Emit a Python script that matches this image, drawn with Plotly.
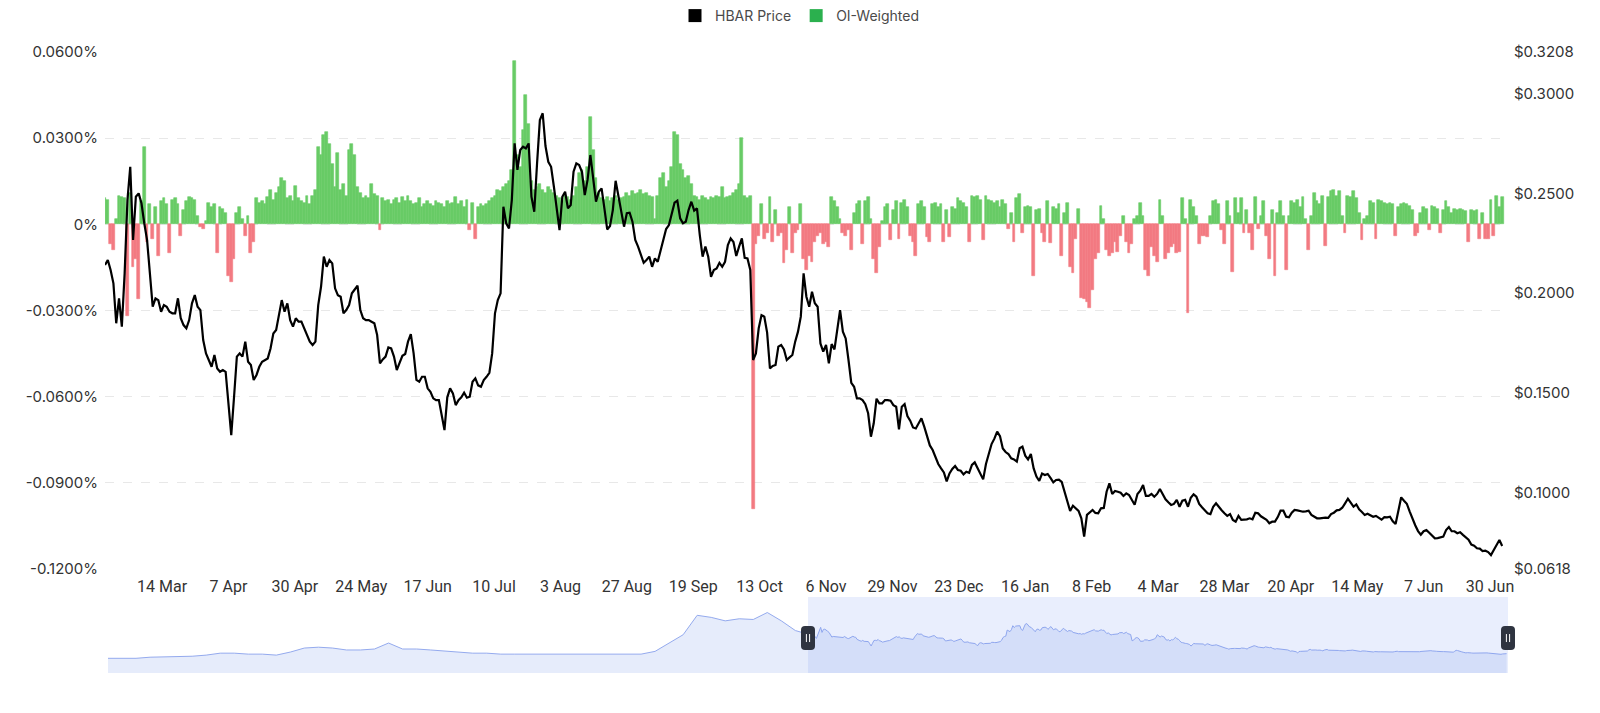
import numpy as np
import pandas as pd
import plotly.graph_objects as go

# ---------------- data ----------------
start_date = "2025-02-22"

# HBAR price, units of $0.0001, one value per day
price_e4 = [
2141,2166,2116,2049,1849,1974,1832,2099,2466,2633,
2266,2483,2500,2450,2350,2266,2099,1932,1974,1965,
1907,1940,1932,1907,1899,1899,1974,1874,1840,1824,
1865,1949,1990,1932,1915,1765,1698,1665,1631,1690,
1623,1606,1615,1606,1448,1289,1481,1682,1698,1682,
1757,1656,1640,1565,1590,1631,1656,1665,1673,1723,
1798,1815,1899,1965,1907,1949,1865,1832,1874,1857,
1857,1824,1782,1757,1740,1757,1940,2032,2183,2132,
2166,2149,2024,1990,1982,1899,1915,1940,1999,2016,
2037,1915,1874,1865,1865,1857,1849,1790,1648,1668,
1682,1728,1723,1682,1615,1651,1686,1695,1757,1795,
1698,1565,1556,1581,1581,1523,1506,1473,1464,1464,
1381,1314,1478,1523,1498,1439,1464,1478,1501,1476,
1481,1556,1573,1538,1531,1565,1581,1601,1698,1899,
1965,1999,2433,2350,2324,2466,2750,2617,2717,2734,
2725,2750,2483,2408,2650,2867,2901,2737,2658,2633,
2533,2416,2316,2483,2508,2425,2441,2608,2650,2642,
2608,2491,2567,2692,2583,2458,2508,2525,2425,2319,
2336,2416,2563,2483,2416,2333,2400,2403,2358,2266,
2233,2196,2152,2166,2183,2132,2174,2157,2216,2263,
2321,2341,2395,2453,2463,2375,2350,2358,2416,2458,
2413,2425,2291,2183,2233,2183,2082,2116,2124,2152,
2132,2157,2241,2274,2256,2186,2233,2274,2177,2174,
2116,1665,1698,1824,1890,1882,1802,1623,1635,1640,
1732,1740,1718,1665,1678,1690,1757,1807,1882,2099,
1982,1932,2007,1949,1932,1748,1707,1740,1648,1745,
1718,1824,1915,1807,1773,1665,1551,1531,1473,1473,
1464,1444,1398,1281,1348,1471,1448,1448,1464,1464,
1461,1439,1431,1317,1431,1444,1384,1361,1327,1322,
1351,1373,1331,1281,1237,1214,1177,1144,1122,1102,
1057,1097,1119,1134,1114,1110,1092,1105,1100,1139,
1152,1124,1100,1067,1144,1197,1244,1271,1306,1284,
1222,1204,1194,1172,1167,1156,1223,1231,1186,1167,
1194,1122,1081,1059,1096,1089,1094,1074,1052,1064,
1066,1054,1002,959,909,935,924,909,872,780,
889,900,914,899,897,922,924,1005,1047,994,
1009,1005,1000,984,997,989,967,940,994,1010,
1039,984,984,994,980,994,1019,989,967,952,
939,944,964,930,960,964,930,975,992,980,
944,927,912,897,893,930,947,927,912,897,
884,893,864,855,884,864,865,867,872,867,
900,897,882,875,864,847,855,855,878,910,
910,880,877,900,914,912,909,905,907,910,
889,880,872,872,874,875,874,893,900,912,
914,925,947,970,950,930,942,917,904,889,
895,887,880,884,875,865,878,877,880,857,
843,905,977,960,945,907,867,837,808,790,
807,813,800,785,772,773,777,780,813,828,
807,807,797,802,789,777,765,740,735,722,
720,708,710,703,688,713,738,763,733,
]

# OI-weighted funding rate, units of 0.0001 %, one value per day
funding_e4 = [
90,85,-70,-90,20,100,95,90,-320,110,
-150,-120,-260,80,270,-60,70,-50,60,-110,
80,90,70,-100,85,90,70,-40,50,80,
95,90,85,30,-10,-15,10,75,60,70,
-100,60,55,40,-180,-200,-120,40,60,20,
-40,30,-100,-60,90,75,80,70,95,120,
85,110,130,160,150,90,100,80,135,90,
80,75,100,70,100,120,270,240,310,320,
280,210,130,250,120,140,100,260,280,240,
130,110,90,100,90,140,105,100,-20,90,
80,85,70,85,90,75,95,80,100,80,
70,75,90,60,70,80,70,65,80,75,
70,60,80,70,75,95,70,80,60,85,
-20,75,-50,60,70,65,70,80,90,100,
120,115,130,140,150,190,570,240,200,330,
450,350,150,120,130,140,120,110,130,120,
110,100,90,80,100,95,85,100,130,180,
190,150,200,375,260,160,110,90,85,95,
80,90,100,85,90,95,110,100,115,105,
110,120,105,110,100,95,20,100,160,180,
130,150,200,320,310,210,190,160,170,140,
100,95,85,100,90,85,95,90,100,95,
130,90,95,100,110,120,140,300,100,90,
100,-990,-70,-40,70,-50,-30,95,-60,50,
-40,-30,-135,-90,60,-100,-30,-20,70,-120,
-160,-110,-130,-60,-40,-30,-70,-60,-80,95,
80,60,20,-30,-40,-20,-90,40,70,80,
-70,80,95,20,-120,-170,-80,10,60,70,
-55,50,80,-50,75,85,60,-40,-60,-110,
70,80,60,-45,-60,70,75,60,70,-60,
50,-45,60,55,90,80,75,60,-60,100,
95,100,85,-55,100,85,80,75,80,60,
85,70,-15,40,-60,90,105,-30,60,65,
60,-180,50,55,-30,-60,80,-65,60,55,
70,-110,40,75,-150,-170,-50,55,-255,-260,
-270,-290,-230,-120,-100,65,20,-90,-110,-100,
-60,-95,-40,30,-60,-100,-70,20,30,75,
30,-160,-180,-80,-110,-130,85,30,-120,-100,
-80,-70,-100,-95,90,20,-310,85,60,30,
-70,-40,-40,-45,30,80,85,70,-20,-70,
80,30,-165,90,40,90,-30,50,-30,-90,
95,-15,30,80,-40,-120,50,-180,40,80,
30,-160,30,80,75,85,60,95,20,-90,
30,110,80,70,100,-75,95,115,120,100,
115,30,-30,100,95,115,90,40,-55,20,
30,80,75,-50,85,80,75,70,75,70,
-40,60,70,75,70,65,50,-40,-30,40,
60,55,-20,65,60,55,-30,50,80,60,
40,55,50,55,50,45,-60,50,45,50,
-50,40,-50,-50,85,-40,100,60,95,
]

# earlier price history shown only in the zoom slider (every 10 days)
slider_start = "2023-10-12"
slider_pre_price = [
0.040,0.040,0.040,0.048,0.050,0.055,0.055,0.063,0.077,0.077,
0.070,0.070,0.063,0.085,0.114,0.120,0.114,0.100,0.100,0.107,
0.150,0.107,0.107,0.100,0.092,0.085,0.077,0.077,0.070,0.070,
0.070,0.070,0.070,0.070,0.070,0.070,0.070,0.070,0.070,0.090,
0.150,0.210,0.350,0.335,0.310,0.325,0.320,0.370,0.310,0.240,
]

tick_times = ["2025-03-14 08:00","2025-04-07 00:00","2025-04-30 16:00","2025-05-24 08:00",
              "2025-06-17 00:00","2025-07-10 16:00","2025-08-03 08:00","2025-08-27 00:00",
              "2025-09-19 16:00","2025-10-13 08:00","2025-11-06 00:00","2025-11-29 16:00",
              "2025-12-23 08:00","2026-01-16 00:00","2026-02-08 16:00","2026-03-04 08:00",
              "2026-03-28 00:00","2026-04-20 16:00","2026-05-14 08:00","2026-06-07 00:00",
              "2026-06-30 16:00"]
tick_labels = ["14 Mar","7 Apr","30 Apr","24 May","17 Jun","10 Jul","3 Aug","27 Aug",
               "19 Sep","13 Oct","6 Nov","29 Nov","23 Dec","16 Jan","8 Feb","4 Mar",
               "28 Mar","20 Apr","14 May","7 Jun","30 Jun"]

left_ticks = [-0.12, -0.09, -0.06, -0.03, 0, 0.03, 0.06]
left_labels = ["-0.1200%","-0.0900%","-0.0600%","-0.0300%","0%","0.0300%","0.0600%"]
right_ticks = [0.0618, 0.10, 0.15, 0.20, 0.25, 0.30, 0.3208]
right_labels = ["$0.0618","$0.1000","$0.1500","$0.2000","$0.2500","$0.3000","$0.3208"]

# ---------------- build ----------------
dates = pd.date_range(start_date, periods=len(price_e4), freq="D")
price = np.array(price_e4) / 1e4
funding = np.array(funding_e4) / 1e4

GREEN = "#68cb66"
RED = "#f37a82"
bar_colors = [GREEN if v >= 0 else RED for v in funding]

pre_dates = pd.date_range(slider_start, periods=len(slider_pre_price), freq="10D")
mini_x = list(pre_dates) + list(dates)
mini_y = list(slider_pre_price) + list(price)

x_start = pd.Timestamp(start_date)
x_end = dates[-1] + pd.Timedelta(days=1)
s_start = pd.Timestamp(slider_start)
mini_lo, mini_hi = -0.066, 0.482

fig = go.Figure()
fig.add_trace(go.Bar(x=dates, y=funding, width=86400000,
                     marker=dict(color=bar_colors, line=dict(width=0.6, color=bar_colors)),
                     xaxis="x", yaxis="y", showlegend=False, hoverinfo="skip"))
fig.add_trace(go.Scatter(x=dates, y=price, mode="lines",
                         line=dict(color="#000000", width=2.2),
                         xaxis="x", yaxis="y2", showlegend=False))
fig.add_trace(go.Scatter(x=[None], y=[None], mode="markers", name="HBAR Price",
                         marker=dict(symbol="square", size=13, color="#000000")))
fig.add_trace(go.Scatter(x=[None], y=[None], mode="markers", name="OI-Weighted",
                         marker=dict(symbol="square", size=13, color="#2bb04e")))
# slider shadow: baseline + filled line
fig.add_trace(go.Scatter(x=[mini_x[0], mini_x[-1]], y=[mini_lo, mini_lo], mode="lines",
                         line=dict(width=0), xaxis="x2", yaxis="y3",
                         showlegend=False, hoverinfo="skip"))
fig.add_trace(go.Scatter(x=mini_x, y=mini_y, mode="lines",
                         line=dict(color="#94aaee", width=1),
                         fill="tonexty", fillcolor="#e6ecfb",
                         xaxis="x2", yaxis="y3", showlegend=False, hoverinfo="skip"))

W, H = 1600, 713
L, R, T, B = 105, 92, 52, 40
plot_w = W - L - R
plot_h = H - T - B
main_bottom_px = 569
slider_top_px = 597
main_dom = [(H - B - main_bottom_px) / plot_h, 1]
slider_dom = [0, (H - B - slider_top_px) / plot_h]
x2_dom = [3 / plot_w, 1]

tick_font = dict(family="Inter, Roboto, sans-serif", size=15, color="#333333")

fig.update_layout(
    width=W, height=H,
    margin=dict(l=L, r=R, t=T, b=B, autoexpand=False),
    paper_bgcolor="white", plot_bgcolor="white",
    barmode="overlay", bargap=0,
    showlegend=True,
    legend=dict(orientation="h", x=(800 - L) / plot_w, xanchor="center",
                y=1 + 36 / plot_h, yanchor="middle", traceorder="normal",
                font=dict(family="Inter, Roboto, sans-serif", size=14, color="#4a4a4a"),
                itemclick=False, itemdoubleclick=False),
    xaxis=dict(type="date", domain=[0, 1400 / plot_w], range=[x_start, x_end],
               tickvals=tick_times, ticktext=tick_labels, showgrid=False,
               ticks="", showline=False, zeroline=False, ticklabelstandoff=6,
               tickfont=dict(family="Liberation Sans Narrow, Roboto, sans-serif", size=16, color="#333333"),
               anchor="y"),
    yaxis=dict(domain=main_dom, range=[-0.12, 0.06], tickvals=left_ticks, ticktext=left_labels,
               showgrid=True, gridcolor="#e8e8e8", griddash="dash", gridwidth=1,
               zeroline=False, showline=False, ticks="", tickfont=tick_font,
               ticklabelstandoff=6, anchor="x"),
    yaxis2=dict(overlaying="y", side="right", range=[0.0618, 0.3208],
                tickvals=right_ticks, ticktext=right_labels, showgrid=False,
                zeroline=False, showline=False, ticks="", tickfont=tick_font,
                ticklabelstandoff=8, anchor="x"),
    xaxis2=dict(type="date", domain=x2_dom, range=[s_start, x_end],
                showticklabels=False, showgrid=False, zeroline=False, showline=False,
                ticks="", anchor="y3"),
    yaxis3=dict(domain=slider_dom, range=[mini_lo, mini_hi], showticklabels=False, showgrid=False,
                zeroline=False, showline=False, ticks="", anchor="x2"),
)

# selected window of the zoom slider
fig.add_shape(type="rect", xref="x2", yref="y3 domain", x0=x_start, x1=x_end, y0=0, y1=1,
              fillcolor="rgba(120,150,240,0.16)", line=dict(width=0), layer="above")

def to_paper_x(ts):
    frac = (ts - s_start) / (x_end - s_start)
    return x2_dom[0] + frac * (x2_dom[1] - x2_dom[0])

handle_y = slider_dom[0] + 0.46 * (slider_dom[1] - slider_dom[0])
handle_path = ("M -3,-12 L 3,-12 Q 7,-12 7,-8 L 7,8 Q 7,12 3,12 L -3,12 "
               "Q -7,12 -7,8 L -7,-8 Q -7,-12 -3,-12 Z")
for hx in [x_start, x_end]:
    px = to_paper_x(hx)
    fig.add_shape(type="path", xref="paper", yref="paper", xsizemode="pixel", ysizemode="pixel",
                  xanchor=px, yanchor=handle_y, path=handle_path,
                  fillcolor="#2f3440", line=dict(width=0), layer="above")
    for dx in (-1.6, 1.6):
        fig.add_shape(type="line", xref="paper", yref="paper", xsizemode="pixel", ysizemode="pixel",
                      xanchor=px, yanchor=handle_y, x0=dx, x1=dx, y0=-4, y1=4,
                      line=dict(color="#ffffff", width=1), layer="above")

fig.write_html("out.html")
